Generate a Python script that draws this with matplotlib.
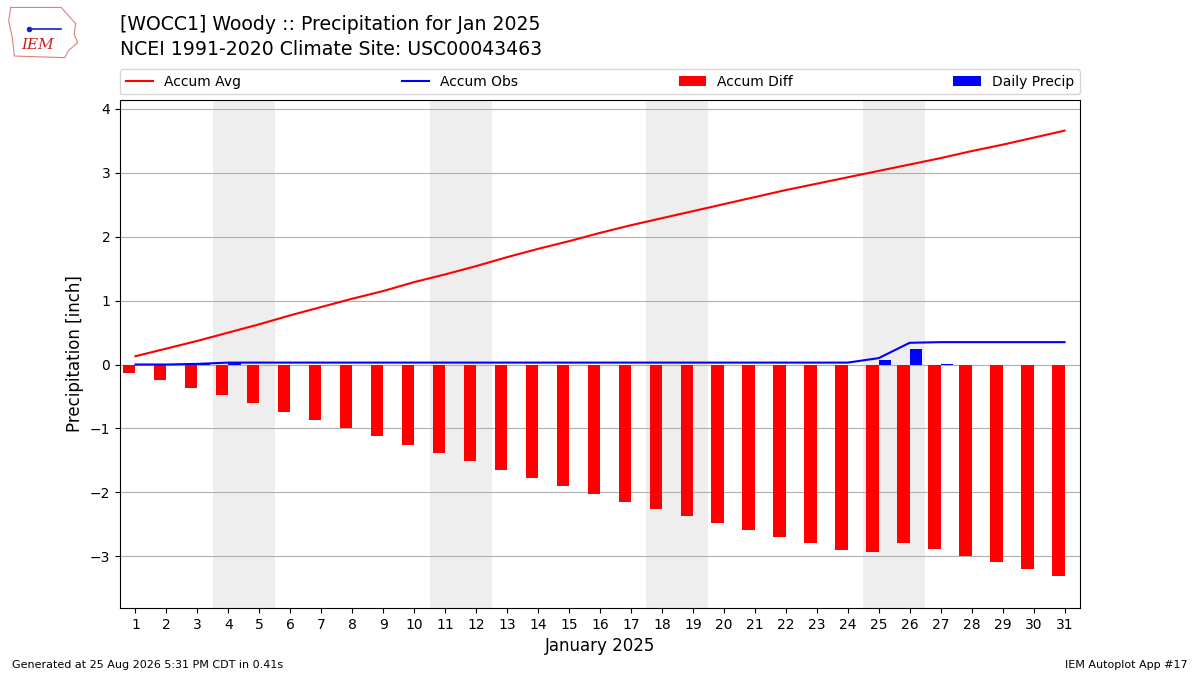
"""Accumulated precipitation vs. climatology for WOCC1 Woody, Jan 2025."""
import matplotlib
matplotlib.use("Agg")
import matplotlib.pyplot as plt
import numpy as np

DAYS = list(range(1, 32))
ACCUM_AVG = [0.13, 0.25, 0.37, 0.50, 0.63, 0.77, 0.90, 1.03, 1.15, 1.29,
             1.41, 1.54, 1.68, 1.81, 1.93, 2.06, 2.18, 2.29, 2.40, 2.51,
             2.62, 2.73, 2.83, 2.93, 3.03, 3.13, 3.23, 3.34, 3.44, 3.55, 3.66]
DAILY_PRECIP = [0.0, 0.0, 0.01, 0.02, 0.0, 0.0, 0.0, 0.0, 0.0, 0.0,
                0.0, 0.0, 0.0, 0.0, 0.0, 0.0, 0.0, 0.0, 0.0, 0.0,
                0.0, 0.0, 0.0, 0.0, 0.07, 0.24, 0.01, 0.0, 0.0, 0.0, 0.0]
WEEKENDS = [(4, 5), (11, 12), (18, 19), (25, 26)]

TITLE = "[WOCC1] Woody :: Precipitation for Jan 2025\nNCEI 1991-2020 Climate Site: USC00043463"

accum_obs = np.cumsum(DAILY_PRECIP)
accum_diff = accum_obs - np.array(ACCUM_AVG)

fig = plt.figure(figsize=(12, 6.75), dpi=100)
ax = fig.add_axes([0.1, 0.0993, 0.8, 0.7526])

for start, end in WEEKENDS:
    ax.axvspan(start - 0.5, end + 0.5, color="#eeeeee", zorder=0, lw=0)

ax.plot(DAYS, ACCUM_AVG, color="r", lw=1.5, label="Accum Avg", zorder=3)
ax.plot(DAYS, accum_obs, color="b", lw=1.5, label="Accum Obs", zorder=3)
ax.bar(DAYS, accum_diff, width=-0.4, align="edge", color="r",
       label="Accum Diff", zorder=2)
ax.bar(DAYS, DAILY_PRECIP, width=0.4, align="edge", color="b",
       label="Daily Precip", zorder=2)

ax.set_xlim(0.5, 31.5)
ax.set_ylim(-3.81, 4.14)
ax.set_xticks(DAYS)
ax.set_yticks(range(-3, 5))
ax.set_yticklabels([f"{v}".replace("-", "\u2212") for v in range(-3, 5)])
ax.grid(axis="y", color="#b0b0b0", lw=0.8)
ax.set_axisbelow(True)
ax.set_xlabel("January 2025", fontsize=12)
ax.set_ylabel("Precipitation [inch]", fontsize=12)

ax.legend(loc="lower left", bbox_to_anchor=(0, 1.011, 1, 0.05), mode="expand",
          ncol=4, fontsize=10, borderaxespad=0)

fig.text(0.1, 1 - 15 / 675, TITLE, fontsize=13.6, va="top", ha="left",
         linespacing=1.4)
fig.text(0.01, 0.008, "Generated at 25 Aug 2026 5:31 PM CDT in 0.41s",
         fontsize=8, va="bottom")
fig.text(0.99, 0.008, "IEM Autoplot App #17", fontsize=8, va="bottom",
         ha="right")

# rough stand-in for the IEM logo
logo = fig.add_axes([0.006, 0.913, 0.06, 0.08])
logo.axis("off")
outline_x = [0.05, 0.75, 0.85, 0.95, 0.93, 0.98, 0.85, 0.80, 0.10, 0.07, 0.02, 0.05]
outline_y = [0.95, 0.95, 0.80, 0.65, 0.45, 0.30, 0.15, 0.02, 0.05, 0.40, 0.70, 0.95]
logo.plot(outline_x, outline_y, color="#e08080", lw=0.8)
logo.plot([0.3, 0.75], [0.55, 0.55], color="#2020c0", lw=1.2)
logo.plot([0.3], [0.55], "o", color="#2020c0", ms=3)
logo.text(0.42, 0.25, "IEM", color="#cc2020", fontsize=11, family="serif",
          style="italic", ha="center", va="center")
logo.set_xlim(0, 1)
logo.set_ylim(0, 1)

fig.savefig("out.png", dpi=100)
